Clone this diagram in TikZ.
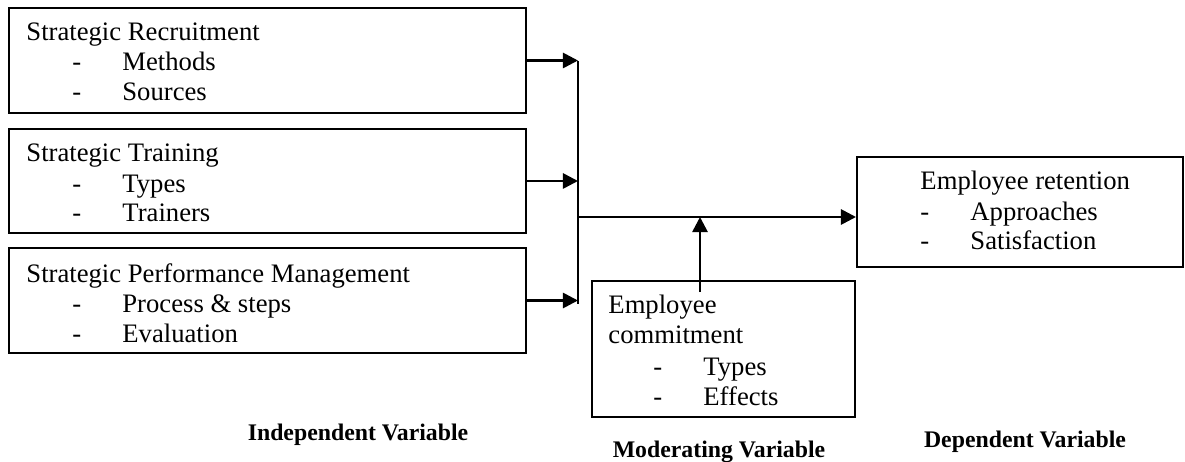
\documentclass[tikz,border=0pt]{standalone}
\usepackage{fontspec}
\setmainfont{Liberation Serif}
\usetikzlibrary{arrows.meta,fit}

% list entry: hyphen, then the item after a fixed gap
\newcommand{\listitem}[1]{\makebox[22.5pt][l]{-}#1}

\begin{document}
\begin{tikzpicture}[x=0.45pt,y=-0.45pt,
  box/.style={draw, line width=0.9pt, inner sep=0pt},
  txt/.style={anchor=base west, inner sep=0pt, font=\fontsize{12pt}{13.5pt}\selectfont},
  lbl/.style={anchor=base, inner sep=0pt, font=\fontsize{10.7pt}{12pt}\selectfont\bfseries},
  arr/.style={line width=1.2pt, -{Triangle[length=6.8pt,width=6.8pt]}},
  busline/.style={line width=0.8pt}]
\useasboundingbox (0,0) rectangle (1185,462);

% independent variables
\node[box, fit={(9,8)(526,113)}] (b1) {};
\node[box, fit={(9,129)(526,233)}] (b2) {};
\node[box, fit={(9,248)(526,353)}] (b3) {};
% dependent variable
\node[box, fit={(857,157)(1183,267)}] (b4) {};
% moderating variable
\node[box, fit={(592,281)(855,417)}] (b5) {};

\node[txt] (b1t) at (26,41) {Strategic Recruitment};
\node[txt] (b1a) at (72,71) {\listitem{Methods}};
\node[txt] (b1b) at (72,101) {\listitem{Sources}};

\node[txt] (b2t) at (26,162) {Strategic Training};
\node[txt] (b2a) at (72,192) {\listitem{Types}};
\node[txt] (b2b) at (72,222) {\listitem{Trainers}};

\node[txt] (b3t) at (26,282) {Strategic Performance Management};
\node[txt] (b3a) at (72,312) {\listitem{Process \& steps}};
\node[txt] (b3b) at (72,342) {\listitem{Evaluation}};

\node[txt] (b4t) at (920,190) {Employee retention};
\node[txt] (b4a) at (920,220) {\listitem{Approaches}};
\node[txt] (b4b) at (920,250) {\listitem{Satisfaction}};

\node[txt] (b5t) at (608,313) {Employee};
\node[txt] (b5u) at (608,343) {commitment};
\node[txt] (b5a) at (653,375) {\listitem{Types}};
\node[txt] (b5b) at (653,405) {\listitem{Effects}};

% captions
\node[lbl] (l1) at (358,440) {Independent Variable};
\node[lbl] (l2) at (719,457) {Moderating Variable};
\node[lbl] (l3) at (1025,447) {Dependent Variable};

% collecting bus and connectors
\coordinate (busT) at (578,61);
\coordinate (busB) at (578,304);
\coordinate (mainS) at (578,217);
\coordinate (upS) at (700,292);

\draw[busline] (busT) -- (busB);
\draw[arr] (b1.east) -- (b1.east -| busT);
\draw[arr] (b2.east) -- (b2.east -| busT);
\draw[arr] (b3.east) -- (b3.east -| busT);
\draw[arr] (mainS) -- (mainS -| b4.west);
\draw[arr] (upS) -- (upS |- mainS);
\end{tikzpicture}
\end{document}
